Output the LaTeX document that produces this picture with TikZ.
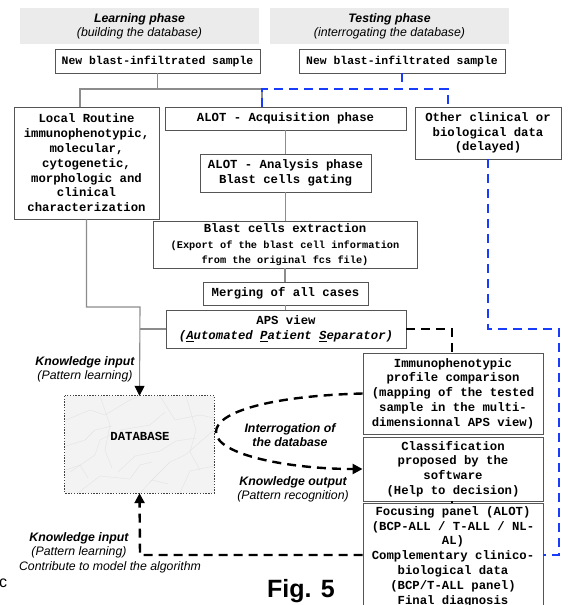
\documentclass[tikz,border=0pt]{standalone}
\usepackage{fontspec}
\setmainfont{Liberation Sans}
\newfontfamily\monof{Liberation Mono}
\usetikzlibrary{arrows.meta}
\definecolor{boxc}{HTML}{555555}
\definecolor{linec}{HTML}{8C8C8C}
\definecolor{headc}{HTML}{EBEBEB}
\definecolor{blu}{RGB}{25,60,250}
\definecolor{dbfill}{HTML}{F3F3F3}
\begin{document}
\begin{tikzpicture}[x=1pt,y=-1pt,
  box/.style={draw=boxc, line width=0.9pt, fill=white, inner sep=0pt, align=center,
    font=\monof\bfseries\fontsize{12.3}{14.8}\selectfont},
  head/.style={fill=headc, inner sep=0pt, align=center,
    font=\fontsize{12.3}{14}\selectfont\itshape},
  conn/.style={draw=linec, line width=1.1pt},
  bdash/.style={draw=blu, line width=2.4pt, dash pattern=on 9pt off 6pt},
  kdash/.style={draw=black, line width=2.4pt, dash pattern=on 9pt off 6pt},
  tip/.style={-{Triangle[length=10pt,width=10pt,color=black]}},
  lab/.style={align=center, inner sep=0pt, font=\fontsize{12.3}{14}\selectfont\itshape},
]
\clip (0,0) rectangle (569,605);
\fill[white] (0,0) rectangle (569,605);

% headers
\node[head, minimum width=239pt, minimum height=36pt] (h1) at (139.5,26)
  {\textbf{Learning phase}\\(building the database)};
\node[head, minimum width=239pt, minimum height=36pt] (h2) at (389.5,26)
  {\textbf{Testing phase}\\(interrogating the database)};

% coordinates
\coordinate (jl) at (80,89);
\coordinate (jr) at (262,89);
\coordinate (b1) at (402,89);
\coordinate (b2) at (448,89);
\coordinate (b3) at (559,329);
\coordinate (b4) at (559,555);
\coordinate (k1) at (140,307);
\coordinate (d1) at (452,329);
\coordinate (d2) at (140,555);
\coordinate (c1) at (216,432);

% boxes
\node[box, minimum width=205pt, minimum height=24pt, font=\monof\bfseries\fontsize{11.4}{14}\selectfont] (samp1) at (157.5,61) {New blast-infiltrated sample};
\node[box, minimum width=206pt, minimum height=24pt, font=\monof\bfseries\fontsize{11.4}{14}\selectfont] (samp2) at (402,61) {New blast-infiltrated sample};
\node[box, minimum width=145pt, minimum height=112pt] (local) at (86.5,163)
  {Local Routine\\immunophenotypic,\\molecular,\\cytogenetic,\\morphologic and\\clinical\\characterization};
\node[box, minimum width=241pt, minimum height=23pt] (acq) at (285.5,118.5) {ALOT - Acquisition phase};
\node[box, minimum width=146pt, minimum height=52pt] (other) at (488,133)
  {Other clinical or\\biological data\\(delayed)};
\node[box, minimum width=171pt, minimum height=38pt] (anal) at (285.5,173)
  {ALOT - Analysis phase\\Blast cells gating};
\node[box, minimum width=264pt, minimum height=47pt] (extr) at (285,244.5)
  {Blast cells extraction\\[1pt]\fontsize{10.3}{12}\selectfont (Export of the blast cell information\\\fontsize{10.3}{12}\selectfont from the original fcs file)};
\node[box, minimum width=165pt, minimum height=23pt] (merg) at (285.5,293.5) {Merging of all cases};
\node[box, minimum width=240pt, minimum height=38pt] (aps) at (286,329)
  {APS view\\\itshape(\underline{A}utomated \underline{P}atient \underline{S}eparator)};
\node[box, minimum width=180pt, minimum height=81pt] (immu) at (453,393.5)
  {Immunophenotypic\\profile comparison\\(mapping of the tested\\sample in the multi-\\dimensionnal APS view)};
\node[box, minimum width=180pt, minimum height=64pt] (clas) at (453,469)
  {Classification\\proposed by the\\software\\(Help to decision)};
\node[box, minimum width=180pt, minimum height=107pt] (focu) at (453,556.5)
  {Focusing panel (ALOT)\\(BCP-ALL / T-ALL / NL-\\AL)\\Complementary clinico-\\biological data\\(BCP/T-ALL panel)\\Final diagnosis};

% database
\node[minimum width=149pt, minimum height=97pt, inner sep=0pt] (db) at (139.5,444.5) {};
\begin{scope}
  \clip (db.north west) rectangle (db.south east);
  \fill[dbfill] (db.north west) rectangle (db.south east);
  \begin{scope}[draw=gray!22, line width=0.4pt]
    \draw (66,420) -- (90,410) -- (105,415) -- (130,400) -- (140,396);
    \draw (70,472) -- (95,455) -- (100,440) -- (120,430) -- (150,425) -- (165,412);
    \draw (150,482) -- (170,462) -- (185,455) -- (214,430);
    \draw (160,396) -- (175,420) -- (200,415) -- (214,418);
    \draw (78,493) -- (100,476) -- (130,479) -- (140,465) -- (152,462);
    \draw (180,493) -- (190,471) -- (214,466);
    \draw (66,446) -- (85,440) -- (95,430) -- (112,426);
    \draw (118,472) -- (135,456) -- (160,451) -- (176,441) -- (196,438);
    \draw (100,396) -- (110,425) -- (105,450) -- (112,468);
    \draw (186,396) -- (196,430) -- (190,452) -- (200,470);
    \draw (66,470) -- (80,465) -- (88,478);
    \draw (140,493) -- (152,480) -- (168,484);
  \end{scope}
\end{scope}
\draw[draw=black!75, line width=0.8pt, dash pattern=on 1.4pt off 1.4pt] (db.north west) rectangle (db.south east);
\node[font=\monof\bfseries\fontsize{12.3}{14}\selectfont, inner sep=0pt] (dbtext) at (140,436) {DATABASE};

% gray connectors
\draw[conn] (samp1.south) -- (samp1.south |- jl);
\draw[conn] (local.north -| jl) -- (jl) -- (jr) -- (acq.north -| jr);
\draw[conn] (acq.south) -- (acq.south |- anal.north);
\draw[conn] (anal.south) -- (anal.south |- extr.north);
\draw[conn] (extr.south) -- (extr.south |- merg.north);
\draw[conn] (merg.south) -- (merg.south |- aps.north);
\draw[conn, tip] (local.south) |- (k1) -- (db.north);
\draw[conn] (aps.west) -- (aps.west -| k1);

% blue dashed
\draw[bdash] (samp2.south) -- (b1);
\draw[bdash] (acq.north -| jr) -- (jr) -- (b2) -- (other.north -| b2);
\draw[bdash] (other.south) |- (b3) -- (b4) -- (focu.east |- b4);

% black dashed
\draw[kdash] (aps.east) -- (d1) -- (immu.north -| d1);
\draw[kdash, tip] (immu.west) .. controls (270,396) and (216,412) .. (c1)
  .. controls (216,455) and (290,469) .. (clas.west);
\draw[kdash, tip] (focu.west |- d2) -- (d2) -- (db.south);
\draw[line width=1.6pt] (clas.south -| d1) -- (focu.north -| d1);

% labels
\node[lab] (kin1) at (85,369) {\textbf{Knowledge input}\\(Pattern learning)};
\node[lab, font=\fontsize{12.3}{14}\selectfont\bfseries\itshape] (interr) at (290,435) {Interrogation of\\the database};
\node[lab] (kout) at (293,489.5) {\textbf{Knowledge output}\\(Pattern recognition)};
\node[lab] (kin2) at (79,545) {\textbf{Knowledge input}\\(Pattern learning)};
\node[lab] (contrib) at (110,567) {Contribute to model the algorithm};
\node[anchor=base, inner sep=0pt, font=\fontsize{25}{30}\selectfont\bfseries] (fig) at (301,597) {Fig. 5};
\node[anchor=base west, inner sep=0pt, font=\fontsize{16}{18}\selectfont] (stray) at (-1,587) {c};
\end{tikzpicture}
\end{document}
